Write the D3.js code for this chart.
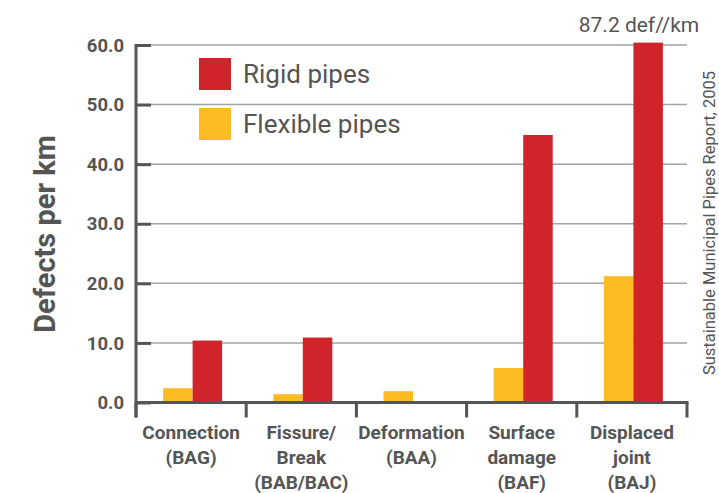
<!DOCTYPE html>
<html>
<head>
<meta charset="utf-8">
<script src="https://cdn.jsdelivr.net/npm/d3@7.9.0/dist/d3.min.js"></script>
<style>
  html, body { margin: 0; padding: 0; background: #fff; }
  svg { display: block; font-family: Roboto, "Noto Sans", sans-serif; }
</style>
</head>
<body>
<div id="chart"></div>
<script>
// categories (multi-line labels) and series values
const categories = ['Connection', 'Fissure', 'Deformation', 'Surface', 'Displaced'];
const categoryLabels = [
  ['Connection', '(BAG)'],
  ['Fissure/', 'Break', '(BAB/BAC)'],
  ['Deformation', '(BAA)'],
  ['Surface', 'damage', '(BAF)'],
  ['Displaced', 'joint', '(BAJ)'],
];
const flexible = [2.4, 1.4, 1.9, 5.8, 21.2];
const rigid = [10.4, 10.9, 0, 44.9, 87.2];
const yTicks = [0, 10, 20, 30, 40, 50, 60];
const series = ['Flexible pipes', 'Rigid pipes'];
const legendOrder = ['Rigid pipes', 'Flexible pipes'];
const colors = { 'Rigid pipes': '#d1232a', 'Flexible pipes': '#fdbb23' };
const capValue = 60.4; // bars beyond the axis top are cut off
const note = '87.2 def//km';
const source = 'Sustainable Municipal Pipes Report, 2005';

const width = 719;
const height = 493;
const margin = { top: 45, right: 32, bottom: 90, left: 136 };
const textColor = '#555';

const svg = d3
  .select('#chart')
  .append('svg')
  .attr('width', width)
  .attr('height', height);

const x = d3
  .scaleBand()
  .domain(categories)
  .range([margin.left, width - margin.right])
  .paddingInner(0)
  .paddingOuter(0);

const xInner = d3
  .scaleBand()
  .domain(series)
  .range([0, 59]);

const y = d3
  .scaleLinear()
  .domain([0, 60])
  .range([height - margin.bottom - 0.5, margin.top]);

// gridlines
svg
  .append('g')
  .selectAll('line')
  .data(yTicks.filter((d) => d > 0))
  .join('line')
  .attr('x1', margin.left)
  .attr('x2', width - margin.right)
  .attr('y1', (d) => y(d))
  .attr('y2', (d) => y(d))
  .attr('stroke', '#a0a4a6')
  .attr('stroke-width', 1.5);

// bars
const rows = categories.map((c, i) => ({
  cat: c,
  values: [
    { key: 'Flexible pipes', value: flexible[i] },
    { key: 'Rigid pipes', value: rigid[i] },
  ],
}));

svg
  .append('g')
  .selectAll('g')
  .data(rows)
  .join('g')
  .attr('transform', (d) => `translate(${x(d.cat) + x.bandwidth() / 2 - 28},0)`)
  .selectAll('rect')
  .data((d) => d.values.filter((v) => v.value > 0))
  .join('rect')
  .attr('x', (d) => xInner(d.key))
  .attr('width', xInner.bandwidth())
  .attr('y', (d) => y(Math.min(d.value, capValue)))
  .attr('height', (d) => y(0) - y(Math.min(d.value, capValue)))
  .attr('fill', (d) => colors[d.key]);

// y axis
const yAxis = svg
  .append('g')
  .attr('transform', `translate(${margin.left},0)`)
  .call(
    d3
      .axisRight(y)
      .tickValues(yTicks)
      .tickSize(15)
      .tickFormat(''),
  );
yAxis.select('.domain').remove();
yAxis.selectAll('line').attr('stroke', textColor).attr('stroke-width', 3);

svg
  .append('g')
  .selectAll('text')
  .data(yTicks)
  .join('text')
  .attr('x', margin.left - 12)
  .attr('y', (d) => y(d))
  .attr('dy', '0.36em')
  .attr('text-anchor', 'end')
  .attr('font-size', 18.5)
  .attr('font-weight', 700)
  .attr('fill', textColor)
  .text((d) => d3.format('.1f')(d));

svg
  .append('line')
  .attr('x1', margin.left)
  .attr('x2', margin.left)
  .attr('y1', margin.top - 1)
  .attr('y2', y(0) + 15)
  .attr('stroke', textColor)
  .attr('stroke-width', 3);

// x axis
svg
  .append('line')
  .attr('x1', margin.left)
  .attr('x2', width - margin.right + 1.5)
  .attr('y1', y(0))
  .attr('y2', y(0))
  .attr('stroke', textColor)
  .attr('stroke-width', 3);

svg
  .append('g')
  .selectAll('line')
  .data(categories.map((c) => x(c)).concat([x.range()[1]]))
  .join('line')
  .attr('x1', (d) => d)
  .attr('x2', (d) => d)
  .attr('y1', y(0))
  .attr('y2', y(0) + 15)
  .attr('stroke', textColor)
  .attr('stroke-width', 3);

svg
  .append('g')
  .selectAll('text')
  .data(categories)
  .join('text')
  .attr('x', (d) => x(d) + x.bandwidth() / 2)
  .attr('y', 439)
  .attr('text-anchor', 'middle')
  .attr('font-size', 19)
  .attr('font-weight', 700)
  .attr('fill', textColor)
  .selectAll('tspan')
  .data((d, i) => categoryLabels[i])
  .join('tspan')
  .attr('x', function () {
    return this.parentNode.getAttribute('x');
  })
  .attr('dy', (d, i) => (i === 0 ? 0 : 25))
  .text((d) => d);

// y title
svg
  .append('text')
  .attr('transform', `translate(55,234) rotate(-90)`)
  .attr('text-anchor', 'middle')
  .attr('font-size', 29)
  .attr('font-weight', 700)
  .attr('fill', textColor)
  .text('Defects per km');

// legend
const legend = svg
  .append('g')
  .selectAll('g')
  .data(legendOrder)
  .join('g')
  .attr('transform', (d, i) => `translate(199,${58 + i * 50})`);

legend
  .append('rect')
  .attr('width', 32)
  .attr('height', 32)
  .attr('fill', (d) => colors[d]);

legend
  .append('text')
  .attr('x', 44)
  .attr('y', 16)
  .attr('dy', '0.36em')
  .attr('font-size', 26)
  .attr('fill', textColor)
  .text((d) => d);

// note over the cut-off bar
svg
  .append('text')
  .attr('x', 639)
  .attr('y', 32)
  .attr('text-anchor', 'middle')
  .attr('font-size', 21)
  .attr('fill', textColor)
  .text(note);

// source
svg
  .append('text')
  .attr('transform', `translate(715,223) rotate(-90)`)
  .attr('text-anchor', 'middle')
  .attr('font-size', 16.5)
  .attr('fill', textColor)
  .text(source);
</script>
</body>
</html>
